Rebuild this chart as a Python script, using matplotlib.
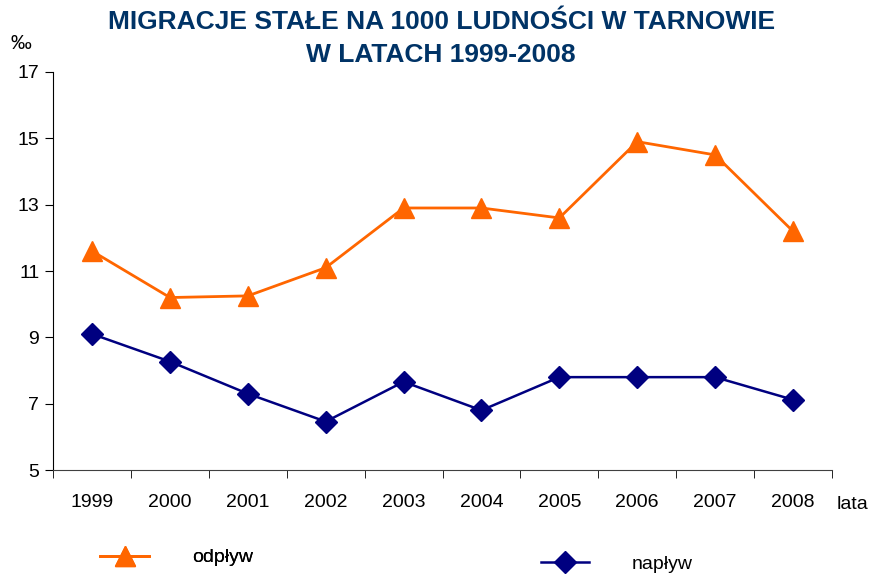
import matplotlib.pyplot as plt
from matplotlib.ticker import FixedLocator, NullFormatter

years = ['1999', '2000', '2001', '2002', '2003', '2004', '2005', '2006', '2007', '2008']
odplyw = [11.6, 10.2, 10.25, 11.1, 12.9, 12.9, 12.6, 14.9, 14.5, 12.2]
naplyw = [9.1, 8.27, 7.3, 6.46, 7.66, 6.8, 7.8, 7.8, 7.8, 7.12]

plt.rcParams['font.family'] = ['Liberation Sans', 'DejaVu Sans']

fig = plt.figure(figsize=(8.72, 5.76), dpi=100)
ax = fig.add_axes([0.061, 0.184, 0.893, 0.691])

x = list(range(len(years)))
l1, = ax.plot(x, odplyw, color='#FF6600', lw=2, marker='^', ms=15, mec='#FF6600', label='odpływ')
l2, = ax.plot(x, naplyw, color='#000080', lw=1.8, marker='D', ms=11, mec='#000080', label='napływ')

ax.set_xlim(-0.5, 9.5)
ax.set_ylim(5, 17)
ax.set_yticks([5, 7, 9, 11, 13, 15, 17])
ax.set_xticks(x)
ax.set_xticklabels(years)
ax.xaxis.set_minor_locator(FixedLocator([i - 0.5 for i in range(11)]))
ax.xaxis.set_minor_formatter(NullFormatter())
ax.tick_params(axis='x', which='major', length=0, pad=17, labelsize=14)
ax.tick_params(axis='x', which='minor', length=6, direction='out')
ax.tick_params(axis='y', length=6, direction='out', labelsize=14, pad=4)
for s in ['top', 'right']:
    ax.spines[s].set_visible(False)
ax.spines['bottom'].set_color('#404040')

# title, two lines placed separately
title_kw = dict(ha='center', va='center', fontsize=19, fontweight='bold', color='#003366')
fig.text(0.506, 0.962, 'MIGRACJE STAŁE NA 1000 LUDNOŚCI W TARNOWIE', **title_kw)
fig.text(0.506, 0.905, 'W LATACH 1999-2008', **title_kw)
fig.text(0.012, 0.915, '‰', fontsize=15)
fig.text(0.96, 0.116, 'lata', fontsize=14)

leg1 = fig.legend(handles=[l1], loc='center left', bbox_to_anchor=(0.095, 0.032),
                  frameon=False, fontsize=14, handlelength=2.5, handletextpad=2.2)
fig.add_artist(leg1)
fig.legend(handles=[l2], loc='center left', bbox_to_anchor=(0.6, 0.02),
           frameon=False, fontsize=14, handlelength=2.5, handletextpad=2.2)

fig.savefig('out.png', dpi=100)
